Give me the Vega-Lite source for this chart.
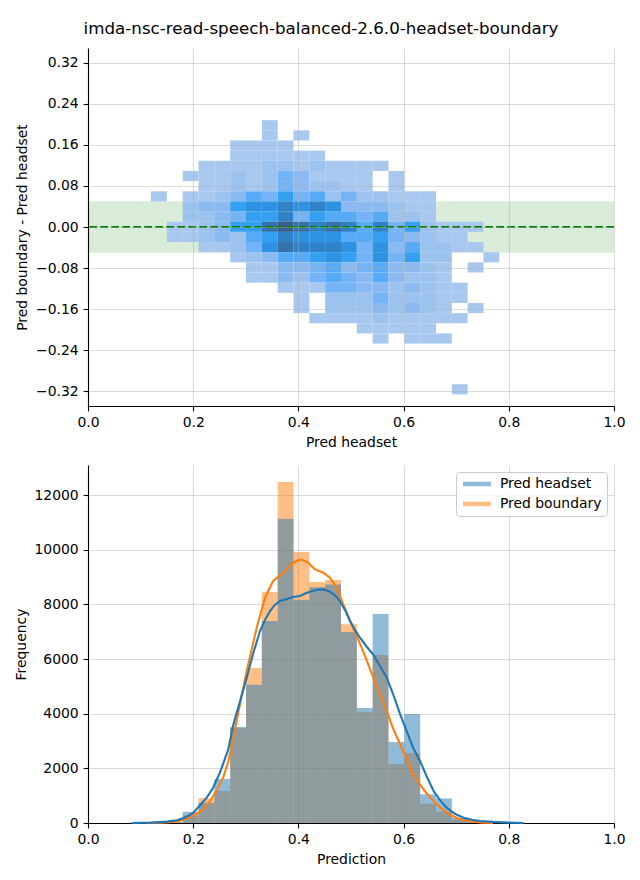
{
  "$schema": "https://vega.github.io/schema/vega-lite/v6.json",
  "padding": {"left": 14, "top": 21, "right": 8, "bottom": 5},
  "title": {"text": "imda-nsc-read-speech-balanced-2.6.0-headset-boundary", "fontSize": 16.7, "font": "DejaVu Sans", "fontWeight": "normal", "color": "#000", "anchor": "middle", "offset": 10, "dx": 1.5},
  "spacing": 15,
  "resolve": {"legend": {"fill": "independent", "stroke": "independent"}, "scale": {"fill": "independent", "stroke": "independent"}},
  "config": {
    "font": "DejaVu Sans",
    "view": {"stroke": null},
    "axis": {"domainColor": "#000", "domainWidth": 1.1, "tickColor": "#000", "tickWidth": 1.1, "tickSize": 4.9, "labelFontSize": 13.9, "labelColor": "#000", "labelPadding": 4.9, "labelFlush": false, "labelOverlap": false, "titleFontSize": 13.9, "titleColor": "#000", "titleFontWeight": "normal", "titlePadding": 6, "gridColor": "#b0b0b0", "gridOpacity": 0.45, "gridWidth": 1.1, "labelFont": "DejaVu Sans", "titleFont": "DejaVu Sans"}
  },
  "datasets": {
    "band": [{"lo": -0.05, "hi": 0.05}],
    "zero": [{"v": 0}],
    "cells": [
      {"x0":0.3305,"x1":0.3606,"y0":0.1885,"y1":0.2083,"n":1},
      {"x0":0.3305,"x1":0.3606,"y0":0.1687,"y1":0.1885,"n":1},
      {"x0":0.3907,"x1":0.4208,"y0":0.1687,"y1":0.1885,"n":1},
      {"x0":0.2703,"x1":0.3004,"y0":0.1489,"y1":0.1687,"n":1},
      {"x0":0.3004,"x1":0.3305,"y0":0.1489,"y1":0.1687,"n":1},
      {"x0":0.3305,"x1":0.3606,"y0":0.1489,"y1":0.1687,"n":1},
      {"x0":0.3606,"x1":0.3907,"y0":0.1489,"y1":0.1687,"n":1},
      {"x0":0.2703,"x1":0.3004,"y0":0.1291,"y1":0.1489,"n":1},
      {"x0":0.3004,"x1":0.3305,"y0":0.1291,"y1":0.1489,"n":1},
      {"x0":0.3305,"x1":0.3606,"y0":0.1291,"y1":0.1489,"n":1},
      {"x0":0.3606,"x1":0.3907,"y0":0.1291,"y1":0.1489,"n":1},
      {"x0":0.3907,"x1":0.4208,"y0":0.1291,"y1":0.1489,"n":1},
      {"x0":0.4208,"x1":0.4509,"y0":0.1291,"y1":0.1489,"n":1},
      {"x0":0.2101,"x1":0.2402,"y0":0.1093,"y1":0.1291,"n":1},
      {"x0":0.2402,"x1":0.2703,"y0":0.1093,"y1":0.1291,"n":1},
      {"x0":0.2703,"x1":0.3004,"y0":0.1093,"y1":0.1291,"n":1},
      {"x0":0.3004,"x1":0.3305,"y0":0.1093,"y1":0.1291,"n":1},
      {"x0":0.3305,"x1":0.3606,"y0":0.1093,"y1":0.1291,"n":2},
      {"x0":0.3606,"x1":0.3907,"y0":0.1093,"y1":0.1291,"n":2},
      {"x0":0.3907,"x1":0.4208,"y0":0.1093,"y1":0.1291,"n":1},
      {"x0":0.4208,"x1":0.4509,"y0":0.1093,"y1":0.1291,"n":2},
      {"x0":0.4509,"x1":0.481,"y0":0.1093,"y1":0.1291,"n":1},
      {"x0":0.481,"x1":0.5111,"y0":0.1093,"y1":0.1291,"n":1},
      {"x0":0.5111,"x1":0.5412,"y0":0.1093,"y1":0.1291,"n":1},
      {"x0":0.5412,"x1":0.5713,"y0":0.1093,"y1":0.1291,"n":1},
      {"x0":0.18,"x1":0.2101,"y0":0.0895,"y1":0.1093,"n":1},
      {"x0":0.2101,"x1":0.2402,"y0":0.0895,"y1":0.1093,"n":1},
      {"x0":0.2402,"x1":0.2703,"y0":0.0895,"y1":0.1093,"n":1},
      {"x0":0.2703,"x1":0.3004,"y0":0.0895,"y1":0.1093,"n":2},
      {"x0":0.3004,"x1":0.3305,"y0":0.0895,"y1":0.1093,"n":1},
      {"x0":0.3305,"x1":0.3606,"y0":0.0895,"y1":0.1093,"n":2},
      {"x0":0.3606,"x1":0.3907,"y0":0.0895,"y1":0.1093,"n":4},
      {"x0":0.3907,"x1":0.4208,"y0":0.0895,"y1":0.1093,"n":3},
      {"x0":0.4208,"x1":0.4509,"y0":0.0895,"y1":0.1093,"n":1},
      {"x0":0.4509,"x1":0.481,"y0":0.0895,"y1":0.1093,"n":1},
      {"x0":0.481,"x1":0.5111,"y0":0.0895,"y1":0.1093,"n":1},
      {"x0":0.5111,"x1":0.5412,"y0":0.0895,"y1":0.1093,"n":1},
      {"x0":0.5713,"x1":0.6014,"y0":0.0895,"y1":0.1093,"n":1},
      {"x0":0.2101,"x1":0.2402,"y0":0.0697,"y1":0.0895,"n":1},
      {"x0":0.2402,"x1":0.2703,"y0":0.0697,"y1":0.0895,"n":1},
      {"x0":0.2703,"x1":0.3004,"y0":0.0697,"y1":0.0895,"n":2},
      {"x0":0.3004,"x1":0.3305,"y0":0.0697,"y1":0.0895,"n":1},
      {"x0":0.3305,"x1":0.3606,"y0":0.0697,"y1":0.0895,"n":2},
      {"x0":0.3606,"x1":0.3907,"y0":0.0697,"y1":0.0895,"n":4},
      {"x0":0.3907,"x1":0.4208,"y0":0.0697,"y1":0.0895,"n":3},
      {"x0":0.4208,"x1":0.4509,"y0":0.0697,"y1":0.0895,"n":2},
      {"x0":0.4509,"x1":0.481,"y0":0.0697,"y1":0.0895,"n":2},
      {"x0":0.481,"x1":0.5111,"y0":0.0697,"y1":0.0895,"n":1},
      {"x0":0.5111,"x1":0.5412,"y0":0.0697,"y1":0.0895,"n":1},
      {"x0":0.5713,"x1":0.6014,"y0":0.0697,"y1":0.0895,"n":1},
      {"x0":0.1198,"x1":0.1499,"y0":0.0499,"y1":0.0697,"n":1},
      {"x0":0.18,"x1":0.2101,"y0":0.0499,"y1":0.0697,"n":1},
      {"x0":0.2101,"x1":0.2402,"y0":0.0499,"y1":0.0697,"n":1},
      {"x0":0.2402,"x1":0.2703,"y0":0.0499,"y1":0.0697,"n":2},
      {"x0":0.2703,"x1":0.3004,"y0":0.0499,"y1":0.0697,"n":3},
      {"x0":0.3004,"x1":0.3305,"y0":0.0499,"y1":0.0697,"n":5},
      {"x0":0.3305,"x1":0.3606,"y0":0.0499,"y1":0.0697,"n":4},
      {"x0":0.3606,"x1":0.3907,"y0":0.0499,"y1":0.0697,"n":6},
      {"x0":0.3907,"x1":0.4208,"y0":0.0499,"y1":0.0697,"n":4},
      {"x0":0.4208,"x1":0.4509,"y0":0.0499,"y1":0.0697,"n":5},
      {"x0":0.4509,"x1":0.481,"y0":0.0499,"y1":0.0697,"n":2},
      {"x0":0.481,"x1":0.5111,"y0":0.0499,"y1":0.0697,"n":4},
      {"x0":0.5111,"x1":0.5412,"y0":0.0499,"y1":0.0697,"n":2},
      {"x0":0.5412,"x1":0.5713,"y0":0.0499,"y1":0.0697,"n":2},
      {"x0":0.5713,"x1":0.6014,"y0":0.0499,"y1":0.0697,"n":1},
      {"x0":0.6014,"x1":0.6315,"y0":0.0499,"y1":0.0697,"n":1},
      {"x0":0.6315,"x1":0.6616,"y0":0.0499,"y1":0.0697,"n":1},
      {"x0":0.18,"x1":0.2101,"y0":0.0301,"y1":0.0499,"n":2},
      {"x0":0.2101,"x1":0.2402,"y0":0.0301,"y1":0.0499,"n":3},
      {"x0":0.2402,"x1":0.2703,"y0":0.0301,"y1":0.0499,"n":3},
      {"x0":0.2703,"x1":0.3004,"y0":0.0301,"y1":0.0499,"n":6},
      {"x0":0.3004,"x1":0.3305,"y0":0.0301,"y1":0.0499,"n":7},
      {"x0":0.3305,"x1":0.3606,"y0":0.0301,"y1":0.0499,"n":7},
      {"x0":0.3606,"x1":0.3907,"y0":0.0301,"y1":0.0499,"n":8},
      {"x0":0.3907,"x1":0.4208,"y0":0.0301,"y1":0.0499,"n":7},
      {"x0":0.4208,"x1":0.4509,"y0":0.0301,"y1":0.0499,"n":8},
      {"x0":0.4509,"x1":0.481,"y0":0.0301,"y1":0.0499,"n":7},
      {"x0":0.481,"x1":0.5111,"y0":0.0301,"y1":0.0499,"n":3},
      {"x0":0.5111,"x1":0.5412,"y0":0.0301,"y1":0.0499,"n":3},
      {"x0":0.5412,"x1":0.5713,"y0":0.0301,"y1":0.0499,"n":3},
      {"x0":0.5713,"x1":0.6014,"y0":0.0301,"y1":0.0499,"n":2},
      {"x0":0.6014,"x1":0.6315,"y0":0.0301,"y1":0.0499,"n":1},
      {"x0":0.6315,"x1":0.6616,"y0":0.0301,"y1":0.0499,"n":1},
      {"x0":0.18,"x1":0.2101,"y0":0.0103,"y1":0.0301,"n":2},
      {"x0":0.2101,"x1":0.2402,"y0":0.0103,"y1":0.0301,"n":2},
      {"x0":0.2402,"x1":0.2703,"y0":0.0103,"y1":0.0301,"n":3},
      {"x0":0.2703,"x1":0.3004,"y0":0.0103,"y1":0.0301,"n":4},
      {"x0":0.3004,"x1":0.3305,"y0":0.0103,"y1":0.0301,"n":6},
      {"x0":0.3305,"x1":0.3606,"y0":0.0103,"y1":0.0301,"n":6},
      {"x0":0.3606,"x1":0.3907,"y0":0.0103,"y1":0.0301,"n":8},
      {"x0":0.3907,"x1":0.4208,"y0":0.0103,"y1":0.0301,"n":4},
      {"x0":0.4208,"x1":0.4509,"y0":0.0103,"y1":0.0301,"n":6},
      {"x0":0.4509,"x1":0.481,"y0":0.0103,"y1":0.0301,"n":5},
      {"x0":0.481,"x1":0.5111,"y0":0.0103,"y1":0.0301,"n":5},
      {"x0":0.5111,"x1":0.5412,"y0":0.0103,"y1":0.0301,"n":4},
      {"x0":0.5412,"x1":0.5713,"y0":0.0103,"y1":0.0301,"n":5},
      {"x0":0.5713,"x1":0.6014,"y0":0.0103,"y1":0.0301,"n":2},
      {"x0":0.6014,"x1":0.6315,"y0":0.0103,"y1":0.0301,"n":2},
      {"x0":0.6315,"x1":0.6616,"y0":0.0103,"y1":0.0301,"n":1},
      {"x0":0.1499,"x1":0.18,"y0":-0.0095,"y1":0.0103,"n":1},
      {"x0":0.18,"x1":0.2101,"y0":-0.0095,"y1":0.0103,"n":1},
      {"x0":0.2101,"x1":0.2402,"y0":-0.0095,"y1":0.0103,"n":2},
      {"x0":0.2402,"x1":0.2703,"y0":-0.0095,"y1":0.0103,"n":3},
      {"x0":0.2703,"x1":0.3004,"y0":-0.0095,"y1":0.0103,"n":6},
      {"x0":0.3004,"x1":0.3305,"y0":-0.0095,"y1":0.0103,"n":6},
      {"x0":0.3305,"x1":0.3606,"y0":-0.0095,"y1":0.0103,"n":9},
      {"x0":0.3606,"x1":0.3907,"y0":-0.0095,"y1":0.0103,"n":10},
      {"x0":0.3907,"x1":0.4208,"y0":-0.0095,"y1":0.0103,"n":9},
      {"x0":0.4208,"x1":0.4509,"y0":-0.0095,"y1":0.0103,"n":8},
      {"x0":0.4509,"x1":0.481,"y0":-0.0095,"y1":0.0103,"n":9},
      {"x0":0.481,"x1":0.5111,"y0":-0.0095,"y1":0.0103,"n":8},
      {"x0":0.5111,"x1":0.5412,"y0":-0.0095,"y1":0.0103,"n":5},
      {"x0":0.5412,"x1":0.5713,"y0":-0.0095,"y1":0.0103,"n":8},
      {"x0":0.5713,"x1":0.6014,"y0":-0.0095,"y1":0.0103,"n":4},
      {"x0":0.6014,"x1":0.6315,"y0":-0.0095,"y1":0.0103,"n":6},
      {"x0":0.6315,"x1":0.6616,"y0":-0.0095,"y1":0.0103,"n":2},
      {"x0":0.6616,"x1":0.6917,"y0":-0.0095,"y1":0.0103,"n":1},
      {"x0":0.6917,"x1":0.7218,"y0":-0.0095,"y1":0.0103,"n":1},
      {"x0":0.7218,"x1":0.7519,"y0":-0.0095,"y1":0.0103,"n":1},
      {"x0":0.1499,"x1":0.18,"y0":-0.0293,"y1":-0.0095,"n":1},
      {"x0":0.18,"x1":0.2101,"y0":-0.0293,"y1":-0.0095,"n":1},
      {"x0":0.2101,"x1":0.2402,"y0":-0.0293,"y1":-0.0095,"n":2},
      {"x0":0.2402,"x1":0.2703,"y0":-0.0293,"y1":-0.0095,"n":3},
      {"x0":0.2703,"x1":0.3004,"y0":-0.0293,"y1":-0.0095,"n":2},
      {"x0":0.3004,"x1":0.3305,"y0":-0.0293,"y1":-0.0095,"n":5},
      {"x0":0.3305,"x1":0.3606,"y0":-0.0293,"y1":-0.0095,"n":6},
      {"x0":0.3606,"x1":0.3907,"y0":-0.0293,"y1":-0.0095,"n":8},
      {"x0":0.3907,"x1":0.4208,"y0":-0.0293,"y1":-0.0095,"n":7},
      {"x0":0.4208,"x1":0.4509,"y0":-0.0293,"y1":-0.0095,"n":7},
      {"x0":0.4509,"x1":0.481,"y0":-0.0293,"y1":-0.0095,"n":7},
      {"x0":0.481,"x1":0.5111,"y0":-0.0293,"y1":-0.0095,"n":5},
      {"x0":0.5111,"x1":0.5412,"y0":-0.0293,"y1":-0.0095,"n":5},
      {"x0":0.5412,"x1":0.5713,"y0":-0.0293,"y1":-0.0095,"n":6},
      {"x0":0.5713,"x1":0.6014,"y0":-0.0293,"y1":-0.0095,"n":4},
      {"x0":0.6014,"x1":0.6315,"y0":-0.0293,"y1":-0.0095,"n":3},
      {"x0":0.6315,"x1":0.6616,"y0":-0.0293,"y1":-0.0095,"n":2},
      {"x0":0.6616,"x1":0.6917,"y0":-0.0293,"y1":-0.0095,"n":1},
      {"x0":0.6917,"x1":0.7218,"y0":-0.0293,"y1":-0.0095,"n":1},
      {"x0":0.2101,"x1":0.2402,"y0":-0.0491,"y1":-0.0293,"n":1},
      {"x0":0.2402,"x1":0.2703,"y0":-0.0491,"y1":-0.0293,"n":1},
      {"x0":0.2703,"x1":0.3004,"y0":-0.0491,"y1":-0.0293,"n":2},
      {"x0":0.3004,"x1":0.3305,"y0":-0.0491,"y1":-0.0293,"n":4},
      {"x0":0.3305,"x1":0.3606,"y0":-0.0491,"y1":-0.0293,"n":7},
      {"x0":0.3606,"x1":0.3907,"y0":-0.0491,"y1":-0.0293,"n":9},
      {"x0":0.3907,"x1":0.4208,"y0":-0.0491,"y1":-0.0293,"n":8},
      {"x0":0.4208,"x1":0.4509,"y0":-0.0491,"y1":-0.0293,"n":8},
      {"x0":0.4509,"x1":0.481,"y0":-0.0491,"y1":-0.0293,"n":8},
      {"x0":0.481,"x1":0.5111,"y0":-0.0491,"y1":-0.0293,"n":7},
      {"x0":0.5111,"x1":0.5412,"y0":-0.0491,"y1":-0.0293,"n":4},
      {"x0":0.5412,"x1":0.5713,"y0":-0.0491,"y1":-0.0293,"n":7},
      {"x0":0.5713,"x1":0.6014,"y0":-0.0491,"y1":-0.0293,"n":3},
      {"x0":0.6014,"x1":0.6315,"y0":-0.0491,"y1":-0.0293,"n":5},
      {"x0":0.6315,"x1":0.6616,"y0":-0.0491,"y1":-0.0293,"n":2},
      {"x0":0.6616,"x1":0.6917,"y0":-0.0491,"y1":-0.0293,"n":2},
      {"x0":0.6917,"x1":0.7218,"y0":-0.0491,"y1":-0.0293,"n":1},
      {"x0":0.7218,"x1":0.7519,"y0":-0.0491,"y1":-0.0293,"n":1},
      {"x0":0.2703,"x1":0.3004,"y0":-0.0689,"y1":-0.0491,"n":1},
      {"x0":0.3004,"x1":0.3305,"y0":-0.0689,"y1":-0.0491,"n":2},
      {"x0":0.3305,"x1":0.3606,"y0":-0.0689,"y1":-0.0491,"n":3},
      {"x0":0.3606,"x1":0.3907,"y0":-0.0689,"y1":-0.0491,"n":5},
      {"x0":0.3907,"x1":0.4208,"y0":-0.0689,"y1":-0.0491,"n":5},
      {"x0":0.4208,"x1":0.4509,"y0":-0.0689,"y1":-0.0491,"n":6},
      {"x0":0.4509,"x1":0.481,"y0":-0.0689,"y1":-0.0491,"n":7},
      {"x0":0.481,"x1":0.5111,"y0":-0.0689,"y1":-0.0491,"n":6},
      {"x0":0.5111,"x1":0.5412,"y0":-0.0689,"y1":-0.0491,"n":4},
      {"x0":0.5412,"x1":0.5713,"y0":-0.0689,"y1":-0.0491,"n":7},
      {"x0":0.5713,"x1":0.6014,"y0":-0.0689,"y1":-0.0491,"n":4},
      {"x0":0.6014,"x1":0.6315,"y0":-0.0689,"y1":-0.0491,"n":6},
      {"x0":0.6315,"x1":0.6616,"y0":-0.0689,"y1":-0.0491,"n":2},
      {"x0":0.6616,"x1":0.6917,"y0":-0.0689,"y1":-0.0491,"n":2},
      {"x0":0.7519,"x1":0.782,"y0":-0.0689,"y1":-0.0491,"n":1},
      {"x0":0.3004,"x1":0.3305,"y0":-0.0887,"y1":-0.0689,"n":1},
      {"x0":0.3305,"x1":0.3606,"y0":-0.0887,"y1":-0.0689,"n":1},
      {"x0":0.3606,"x1":0.3907,"y0":-0.0887,"y1":-0.0689,"n":3},
      {"x0":0.3907,"x1":0.4208,"y0":-0.0887,"y1":-0.0689,"n":3},
      {"x0":0.4208,"x1":0.4509,"y0":-0.0887,"y1":-0.0689,"n":4},
      {"x0":0.4509,"x1":0.481,"y0":-0.0887,"y1":-0.0689,"n":5},
      {"x0":0.481,"x1":0.5111,"y0":-0.0887,"y1":-0.0689,"n":3},
      {"x0":0.5111,"x1":0.5412,"y0":-0.0887,"y1":-0.0689,"n":4},
      {"x0":0.5412,"x1":0.5713,"y0":-0.0887,"y1":-0.0689,"n":5},
      {"x0":0.5713,"x1":0.6014,"y0":-0.0887,"y1":-0.0689,"n":3},
      {"x0":0.6014,"x1":0.6315,"y0":-0.0887,"y1":-0.0689,"n":3},
      {"x0":0.6315,"x1":0.6616,"y0":-0.0887,"y1":-0.0689,"n":2},
      {"x0":0.6616,"x1":0.6917,"y0":-0.0887,"y1":-0.0689,"n":1},
      {"x0":0.7218,"x1":0.7519,"y0":-0.0887,"y1":-0.0689,"n":1},
      {"x0":0.3004,"x1":0.3305,"y0":-0.1085,"y1":-0.0887,"n":1},
      {"x0":0.3305,"x1":0.3606,"y0":-0.1085,"y1":-0.0887,"n":1},
      {"x0":0.3606,"x1":0.3907,"y0":-0.1085,"y1":-0.0887,"n":3},
      {"x0":0.3907,"x1":0.4208,"y0":-0.1085,"y1":-0.0887,"n":2},
      {"x0":0.4208,"x1":0.4509,"y0":-0.1085,"y1":-0.0887,"n":4},
      {"x0":0.4509,"x1":0.481,"y0":-0.1085,"y1":-0.0887,"n":5},
      {"x0":0.481,"x1":0.5111,"y0":-0.1085,"y1":-0.0887,"n":4},
      {"x0":0.5111,"x1":0.5412,"y0":-0.1085,"y1":-0.0887,"n":3},
      {"x0":0.5412,"x1":0.5713,"y0":-0.1085,"y1":-0.0887,"n":5},
      {"x0":0.5713,"x1":0.6014,"y0":-0.1085,"y1":-0.0887,"n":3},
      {"x0":0.6014,"x1":0.6315,"y0":-0.1085,"y1":-0.0887,"n":2},
      {"x0":0.6315,"x1":0.6616,"y0":-0.1085,"y1":-0.0887,"n":2},
      {"x0":0.6616,"x1":0.6917,"y0":-0.1085,"y1":-0.0887,"n":1},
      {"x0":0.3606,"x1":0.3907,"y0":-0.1283,"y1":-0.1085,"n":1},
      {"x0":0.3907,"x1":0.4208,"y0":-0.1283,"y1":-0.1085,"n":1},
      {"x0":0.4208,"x1":0.4509,"y0":-0.1283,"y1":-0.1085,"n":1},
      {"x0":0.4509,"x1":0.481,"y0":-0.1283,"y1":-0.1085,"n":4},
      {"x0":0.481,"x1":0.5111,"y0":-0.1283,"y1":-0.1085,"n":4},
      {"x0":0.5111,"x1":0.5412,"y0":-0.1283,"y1":-0.1085,"n":3},
      {"x0":0.5412,"x1":0.5713,"y0":-0.1283,"y1":-0.1085,"n":3},
      {"x0":0.5713,"x1":0.6014,"y0":-0.1283,"y1":-0.1085,"n":2},
      {"x0":0.6014,"x1":0.6315,"y0":-0.1283,"y1":-0.1085,"n":3},
      {"x0":0.6315,"x1":0.6616,"y0":-0.1283,"y1":-0.1085,"n":2},
      {"x0":0.6616,"x1":0.6917,"y0":-0.1283,"y1":-0.1085,"n":1},
      {"x0":0.6917,"x1":0.7218,"y0":-0.1283,"y1":-0.1085,"n":1},
      {"x0":0.3907,"x1":0.4208,"y0":-0.1481,"y1":-0.1283,"n":1},
      {"x0":0.4509,"x1":0.481,"y0":-0.1481,"y1":-0.1283,"n":2},
      {"x0":0.481,"x1":0.5111,"y0":-0.1481,"y1":-0.1283,"n":2},
      {"x0":0.5111,"x1":0.5412,"y0":-0.1481,"y1":-0.1283,"n":2},
      {"x0":0.5412,"x1":0.5713,"y0":-0.1481,"y1":-0.1283,"n":4},
      {"x0":0.5713,"x1":0.6014,"y0":-0.1481,"y1":-0.1283,"n":2},
      {"x0":0.6014,"x1":0.6315,"y0":-0.1481,"y1":-0.1283,"n":2},
      {"x0":0.6315,"x1":0.6616,"y0":-0.1481,"y1":-0.1283,"n":2},
      {"x0":0.6616,"x1":0.6917,"y0":-0.1481,"y1":-0.1283,"n":1},
      {"x0":0.6917,"x1":0.7218,"y0":-0.1481,"y1":-0.1283,"n":1},
      {"x0":0.3907,"x1":0.4208,"y0":-0.1679,"y1":-0.1481,"n":1},
      {"x0":0.4509,"x1":0.481,"y0":-0.1679,"y1":-0.1481,"n":2},
      {"x0":0.481,"x1":0.5111,"y0":-0.1679,"y1":-0.1481,"n":2},
      {"x0":0.5111,"x1":0.5412,"y0":-0.1679,"y1":-0.1481,"n":2},
      {"x0":0.5412,"x1":0.5713,"y0":-0.1679,"y1":-0.1481,"n":3},
      {"x0":0.5713,"x1":0.6014,"y0":-0.1679,"y1":-0.1481,"n":2},
      {"x0":0.6014,"x1":0.6315,"y0":-0.1679,"y1":-0.1481,"n":3},
      {"x0":0.6315,"x1":0.6616,"y0":-0.1679,"y1":-0.1481,"n":2},
      {"x0":0.6616,"x1":0.6917,"y0":-0.1679,"y1":-0.1481,"n":1},
      {"x0":0.7218,"x1":0.7519,"y0":-0.1679,"y1":-0.1481,"n":1},
      {"x0":0.4208,"x1":0.4509,"y0":-0.1877,"y1":-0.1679,"n":1},
      {"x0":0.4509,"x1":0.481,"y0":-0.1877,"y1":-0.1679,"n":1},
      {"x0":0.481,"x1":0.5111,"y0":-0.1877,"y1":-0.1679,"n":1},
      {"x0":0.5111,"x1":0.5412,"y0":-0.1877,"y1":-0.1679,"n":1},
      {"x0":0.5412,"x1":0.5713,"y0":-0.1877,"y1":-0.1679,"n":2},
      {"x0":0.5713,"x1":0.6014,"y0":-0.1877,"y1":-0.1679,"n":1},
      {"x0":0.6014,"x1":0.6315,"y0":-0.1877,"y1":-0.1679,"n":1},
      {"x0":0.6315,"x1":0.6616,"y0":-0.1877,"y1":-0.1679,"n":1},
      {"x0":0.6616,"x1":0.6917,"y0":-0.1877,"y1":-0.1679,"n":1},
      {"x0":0.6917,"x1":0.7218,"y0":-0.1877,"y1":-0.1679,"n":1},
      {"x0":0.5111,"x1":0.5412,"y0":-0.2075,"y1":-0.1877,"n":1},
      {"x0":0.5412,"x1":0.5713,"y0":-0.2075,"y1":-0.1877,"n":1},
      {"x0":0.5713,"x1":0.6014,"y0":-0.2075,"y1":-0.1877,"n":1},
      {"x0":0.6014,"x1":0.6315,"y0":-0.2075,"y1":-0.1877,"n":1},
      {"x0":0.6315,"x1":0.6616,"y0":-0.2075,"y1":-0.1877,"n":1},
      {"x0":0.5412,"x1":0.5713,"y0":-0.2273,"y1":-0.2075,"n":1},
      {"x0":0.6014,"x1":0.6315,"y0":-0.2273,"y1":-0.2075,"n":1},
      {"x0":0.6315,"x1":0.6616,"y0":-0.2273,"y1":-0.2075,"n":1},
      {"x0":0.6616,"x1":0.6917,"y0":-0.2273,"y1":-0.2075,"n":1},
      {"x0":0.6917,"x1":0.7218,"y0":-0.3263,"y1":-0.3065,"n":1}
    ],
    "hist": [
      {"series":"Pred boundary","x0":0.1198,"x1":0.1499,"count":3},
      {"series":"Pred boundary","x0":0.1499,"x1":0.18,"count":20},
      {"series":"Pred boundary","x0":0.18,"x1":0.2101,"count":270},
      {"series":"Pred boundary","x0":0.2101,"x1":0.2402,"count":910},
      {"series":"Pred boundary","x0":0.2402,"x1":0.2703,"count":1170},
      {"series":"Pred boundary","x0":0.2703,"x1":0.3004,"count":3470},
      {"series":"Pred boundary","x0":0.3004,"x1":0.3305,"count":5670},
      {"series":"Pred boundary","x0":0.3305,"x1":0.3606,"count":8450},
      {"series":"Pred boundary","x0":0.3606,"x1":0.3907,"count":12480},
      {"series":"Pred boundary","x0":0.3907,"x1":0.4208,"count":9915},
      {"series":"Pred boundary","x0":0.4208,"x1":0.4509,"count":8820},
      {"series":"Pred boundary","x0":0.4509,"x1":0.481,"count":8890},
      {"series":"Pred boundary","x0":0.481,"x1":0.5111,"count":7270},
      {"series":"Pred boundary","x0":0.5111,"x1":0.5412,"count":4070},
      {"series":"Pred boundary","x0":0.5412,"x1":0.5713,"count":6150},
      {"series":"Pred boundary","x0":0.5713,"x1":0.6014,"count":2160},
      {"series":"Pred boundary","x0":0.6014,"x1":0.6315,"count":2560},
      {"series":"Pred boundary","x0":0.6315,"x1":0.6616,"count":710},
      {"series":"Pred boundary","x0":0.6616,"x1":0.6917,"count":420},
      {"series":"Pred boundary","x0":0.6917,"x1":0.7218,"count":130},
      {"series":"Pred boundary","x0":0.7218,"x1":0.7519,"count":20},
      {"series":"Pred boundary","x0":0.7519,"x1":0.782,"count":0},
      {"series":"Pred headset","x0":0.1198,"x1":0.1499,"count":5},
      {"series":"Pred headset","x0":0.1499,"x1":0.18,"count":30},
      {"series":"Pred headset","x0":0.18,"x1":0.2101,"count":415},
      {"series":"Pred headset","x0":0.2101,"x1":0.2402,"count":740},
      {"series":"Pred headset","x0":0.2402,"x1":0.2703,"count":1610},
      {"series":"Pred headset","x0":0.2703,"x1":0.3004,"count":3510},
      {"series":"Pred headset","x0":0.3004,"x1":0.3305,"count":5060},
      {"series":"Pred headset","x0":0.3305,"x1":0.3606,"count":7390},
      {"series":"Pred headset","x0":0.3606,"x1":0.3907,"count":11130},
      {"series":"Pred headset","x0":0.3907,"x1":0.4208,"count":8170},
      {"series":"Pred headset","x0":0.4208,"x1":0.4509,"count":8630},
      {"series":"Pred headset","x0":0.4509,"x1":0.481,"count":8730},
      {"series":"Pred headset","x0":0.481,"x1":0.5111,"count":6990},
      {"series":"Pred headset","x0":0.5111,"x1":0.5412,"count":4210},
      {"series":"Pred headset","x0":0.5412,"x1":0.5713,"count":7650},
      {"series":"Pred headset","x0":0.5713,"x1":0.6014,"count":2960},
      {"series":"Pred headset","x0":0.6014,"x1":0.6315,"count":3990},
      {"series":"Pred headset","x0":0.6315,"x1":0.6616,"count":1050},
      {"series":"Pred headset","x0":0.6616,"x1":0.6917,"count":900},
      {"series":"Pred headset","x0":0.6917,"x1":0.7218,"count":190},
      {"series":"Pred headset","x0":0.7218,"x1":0.7519,"count":40},
      {"series":"Pred headset","x0":0.7519,"x1":0.782,"count":10}
    ],
    "kde": [
      {"series":"Pred boundary","x":0.11,"count":0},
      {"series":"Pred boundary","x":0.14,"count":15},
      {"series":"Pred boundary","x":0.169,"count":50},
      {"series":"Pred boundary","x":0.19,"count":180},
      {"series":"Pred boundary","x":0.2066,"count":341},
      {"series":"Pred boundary","x":0.22,"count":520},
      {"series":"Pred boundary","x":0.232,"count":805},
      {"series":"Pred boundary","x":0.245,"count":1200},
      {"series":"Pred boundary","x":0.257,"count":1658},
      {"series":"Pred boundary","x":0.2668,"count":2250},
      {"series":"Pred boundary","x":0.2763,"count":3150},
      {"series":"Pred boundary","x":0.289,"count":4350},
      {"series":"Pred boundary","x":0.3017,"count":5561},
      {"series":"Pred boundary","x":0.3207,"count":7146},
      {"series":"Pred boundary","x":0.3365,"count":8244},
      {"series":"Pred boundary","x":0.352,"count":8854},
      {"series":"Pred boundary","x":0.371,"count":9159},
      {"series":"Pred boundary","x":0.39,"count":9524},
      {"series":"Pred boundary","x":0.403,"count":9647},
      {"series":"Pred boundary","x":0.416,"count":9561},
      {"series":"Pred boundary","x":0.4316,"count":9281},
      {"series":"Pred boundary","x":0.447,"count":9159},
      {"series":"Pred boundary","x":0.46,"count":8976},
      {"series":"Pred boundary","x":0.473,"count":8610},
      {"series":"Pred boundary","x":0.4854,"count":8000},
      {"series":"Pred boundary","x":0.504,"count":7146},
      {"series":"Pred boundary","x":0.523,"count":6293},
      {"series":"Pred boundary","x":0.5425,"count":5316},
      {"series":"Pred boundary","x":0.555,"count":4707},
      {"series":"Pred boundary","x":0.568,"count":4098},
      {"series":"Pred boundary","x":0.58,"count":3450},
      {"series":"Pred boundary","x":0.593,"count":2900},
      {"series":"Pred boundary","x":0.601,"count":2560},
      {"series":"Pred boundary","x":0.618,"count":1780},
      {"series":"Pred boundary","x":0.631,"count":1415},
      {"series":"Pred boundary","x":0.644,"count":1080},
      {"series":"Pred boundary","x":0.657,"count":805},
      {"series":"Pred boundary","x":0.67,"count":560},
      {"series":"Pred boundary","x":0.682,"count":378},
      {"series":"Pred boundary","x":0.695,"count":240},
      {"series":"Pred boundary","x":0.707,"count":134},
      {"series":"Pred boundary","x":0.72,"count":80},
      {"series":"Pred boundary","x":0.733,"count":50},
      {"series":"Pred boundary","x":0.7515,"count":12},
      {"series":"Pred boundary","x":0.77,"count":0},
      {"series":"Pred headset","x":0.083,"count":0},
      {"series":"Pred headset","x":0.12,"count":15},
      {"series":"Pred headset","x":0.15,"count":50},
      {"series":"Pred headset","x":0.169,"count":100},
      {"series":"Pred headset","x":0.185,"count":200},
      {"series":"Pred headset","x":0.2,"count":377},
      {"series":"Pred headset","x":0.213,"count":650},
      {"series":"Pred headset","x":0.2257,"count":926},
      {"series":"Pred headset","x":0.238,"count":1300},
      {"series":"Pred headset","x":0.251,"count":1850},
      {"series":"Pred headset","x":0.2668,"count":2700},
      {"series":"Pred headset","x":0.2763,"count":3600},
      {"series":"Pred headset","x":0.289,"count":4450},
      {"series":"Pred headset","x":0.3017,"count":5316},
      {"series":"Pred headset","x":0.314,"count":6200},
      {"series":"Pred headset","x":0.327,"count":7024},
      {"series":"Pred headset","x":0.337,"count":7450},
      {"series":"Pred headset","x":0.346,"count":7756},
      {"series":"Pred headset","x":0.355,"count":7980},
      {"series":"Pred headset","x":0.365,"count":8122},
      {"series":"Pred headset","x":0.378,"count":8200},
      {"series":"Pred headset","x":0.39,"count":8268},
      {"series":"Pred headset","x":0.403,"count":8305},
      {"series":"Pred headset","x":0.413,"count":8400},
      {"series":"Pred headset","x":0.422,"count":8463},
      {"series":"Pred headset","x":0.432,"count":8520},
      {"series":"Pred headset","x":0.441,"count":8549},
      {"series":"Pred headset","x":0.451,"count":8530},
      {"series":"Pred headset","x":0.46,"count":8463},
      {"series":"Pred headset","x":0.47,"count":8320},
      {"series":"Pred headset","x":0.479,"count":8122},
      {"series":"Pred headset","x":0.489,"count":7780},
      {"series":"Pred headset","x":0.498,"count":7390},
      {"series":"Pred headset","x":0.508,"count":7050},
      {"series":"Pred headset","x":0.517,"count":6780},
      {"series":"Pred headset","x":0.53,"count":6450},
      {"series":"Pred headset","x":0.542,"count":6171},
      {"series":"Pred headset","x":0.555,"count":5750},
      {"series":"Pred headset","x":0.568,"count":5316},
      {"series":"Pred headset","x":0.58,"count":4720},
      {"series":"Pred headset","x":0.593,"count":4000},
      {"series":"Pred headset","x":0.601,"count":3600},
      {"series":"Pred headset","x":0.618,"count":2756},
      {"series":"Pred headset","x":0.631,"count":2280},
      {"series":"Pred headset","x":0.644,"count":1700},
      {"series":"Pred headset","x":0.657,"count":1171},
      {"series":"Pred headset","x":0.67,"count":820},
      {"series":"Pred headset","x":0.682,"count":561},
      {"series":"Pred headset","x":0.698,"count":330},
      {"series":"Pred headset","x":0.714,"count":195},
      {"series":"Pred headset","x":0.73,"count":120},
      {"series":"Pred headset","x":0.745,"count":73},
      {"series":"Pred headset","x":0.77,"count":40},
      {"series":"Pred headset","x":0.8,"count":15},
      {"series":"Pred headset","x":0.828,"count":0}
    ]
  },
  "vconcat": [
    {
      "width": 526,
      "height": 358,
      "layer": [
        {
          "data": {"name": "band"},
          "mark": {"type": "rect", "color": "#008000", "opacity": 0.15},
          "encoding": {
            "y": {"field": "lo", "type": "quantitative", "scale": {"domain": [-0.349, 0.349], "nice": false, "zero": false, "padding": 0}, "axis": {"title": "Pred boundary - Pred headset", "values": [-0.32, -0.24, -0.16, -0.08, 0, 0.08, 0.16, 0.24, 0.32], "format": ".2f", "zindex": 1}},
            "y2": {"field": "hi"}
          }
        },
        {
          "data": {"name": "cells"},
          "mark": {"type": "rect"},
          "encoding": {
            "x": {"field": "x0", "type": "quantitative", "scale": {"domain": [0, 1], "nice": false, "padding": 0}, "axis": {"title": "Pred headset", "values": [0, 0.2, 0.4, 0.6, 0.8, 1], "format": ".1f", "zindex": 1}},
            "x2": {"field": "x1"},
            "y": {"field": "y0", "type": "quantitative", "axis": {"title": "Pred boundary - Pred headset", "values": [-0.32, -0.24, -0.16, -0.08, 0, 0.08, 0.16, 0.24, 0.32], "format": ".2f", "zindex": 1}},
            "y2": {"field": "y1"},
            "color": {"field": "n", "type": "quantitative", "legend": null, "scale": {"type": "linear", "domain": [1, 2, 3, 4, 5, 6, 7, 8, 9, 10], "range": ["#a9c8ef", "#9cc2f0", "#8bbaf2", "#74b3f5", "#56aaf6", "#35a0f2", "#2d92e2", "#2f82c8", "#3571aa", "#395f8e"]}}
          }
        },
        {
          "data": {"name": "zero"},
          "mark": {"type": "rule", "color": "#008000", "strokeWidth": 2.1, "strokeDash": [7.7, 3.3]},
          "encoding": {"y": {"field": "v", "type": "quantitative"}}
        }
      ]
    },
    {
      "width": 526,
      "height": 358,
      "layer": [
        {
          "data": {"name": "hist"},
          "transform": [{"filter": "datum.series === 'Pred boundary'"}],
          "mark": {"type": "rect", "opacity": 0.5},
          "encoding": {
            "x": {"field": "x0", "type": "quantitative", "scale": {"domain": [0, 1], "nice": false, "padding": 0}, "axis": {"title": "Prediction", "values": [0, 0.2, 0.4, 0.6, 0.8, 1], "format": ".1f"}},
            "x2": {"field": "x1"},
            "y": {"field": "count", "type": "quantitative", "scale": {"domain": [0, 13100], "nice": false, "padding": 0}, "axis": {"title": "Frequency", "values": [0, 2000, 4000, 6000, 8000, 10000, 12000], "format": "d"}},
            "y2": {"datum": 0},
            "fill": {"field": "series", "type": "nominal", "scale": {"domain": ["Pred headset", "Pred boundary"], "range": ["#1f77b4", "#ff7f0e"]}, "legend": {"title": null, "orient": "top-right", "offset": 7, "fillColor": "rgba(255,255,255,0.8)", "strokeColor": "#cccccc", "cornerRadius": 3, "padding": 5, "labelFontSize": 13.9, "labelColor": "#000", "labelFont": "DejaVu Sans", "symbolType": "M-2.8,-0.45H2.8V0.45H-2.8Z", "symbolSize": 100, "symbolOffset": 9, "symbolOpacity": 0.5, "symbolStrokeWidth": 0, "labelOffset": 16, "rowPadding": 5}}
          }
        },
        {
          "data": {"name": "hist"},
          "transform": [{"filter": "datum.series === 'Pred headset'"}],
          "mark": {"type": "rect", "opacity": 0.5},
          "encoding": {
            "x": {"field": "x0", "type": "quantitative"},
            "x2": {"field": "x1"},
            "y": {"field": "count", "type": "quantitative"},
            "y2": {"datum": 0},
            "fill": {"field": "series", "type": "nominal"}
          }
        },
        {
          "data": {"name": "kde"},
          "mark": {"type": "line", "strokeWidth": 2.1},
          "encoding": {
            "x": {"field": "x", "type": "quantitative"},
            "y": {"field": "count", "type": "quantitative"},
            "stroke": {"field": "series", "type": "nominal", "scale": {"domain": ["Pred headset", "Pred boundary"], "range": ["#1f77b4", "#ff7f0e"]}, "legend": null}
          }
        }
      ]
    }
  ]
}
